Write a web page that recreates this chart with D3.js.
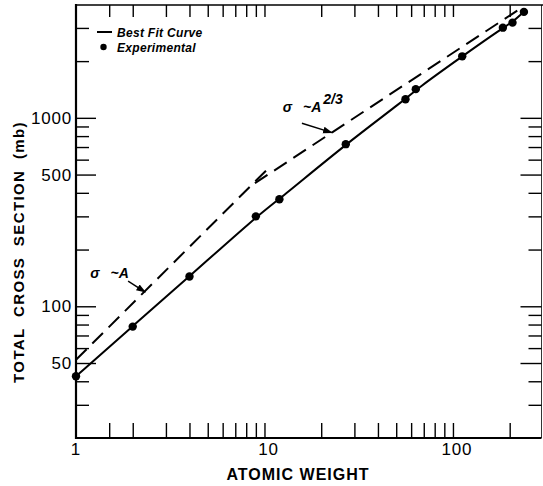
<!DOCTYPE html>
<html>
    <head>
        <title>Total cross section vs atomic weight</title>
        <meta charset="UTF-8">
        <script src="https://cdnjs.cloudflare.com/ajax/libs/d3/7.9.0/d3.min.js"></script>
        <style>
            html, body {
                margin: 0;
                padding: 0;
                background: #fff;
            }
            svg text {
                font-family: 'Liberation Sans', Arial, sans-serif;
                fill: #000;
            }
            .tick-label {
                font-size: 17px;
                letter-spacing: 0.8px;
            }
            .title {
                font-size: 16px;
                font-weight: bold;
                letter-spacing: 1px;
            }
            .note {
                font-size: 12px;
                font-weight: bold;
                font-style: italic;
            }
        </style>
    </head>
    <body>
        <div id="chart"></div>
        <script>
            // experimental points
            let atomicWeight = [1, 2, 4, 9, 12, 27, 56, 63.5, 112, 184, 207, 238];
            let crossSection = [42.5, 78, 144, 300, 370, 725, 1255, 1420, 2120, 3010, 3200, 3650];

            // best fit curve
            let fitA = [1, 2, 4, 9, 12, 27, 56, 63.5, 112, 184, 207, 238];
            let fitSigma = [42.5, 78.5, 144, 298, 370, 725, 1255, 1410, 2120, 3000, 3220, 3650];

            // dashed guides: sigma ~ A and sigma ~ A^(2/3)
            let dashLowA = [1, 10.3];
            let dashLowSigma = [52, 530];
            let dashHighA = [8.9, 236];
            let dashHighSigma = [450, 3890];

            let xTicks = [1.5, 2, 3, 4, 5, 6, 7, 8, 9, 10, 20, 30, 40, 50, 60, 70, 80, 90, 100, 200];
            let xLabels = [1, 10, 100];
            let yMinorTicks = [30, 40, 60, 70, 80, 90, 200, 300, 400, 600, 700, 800, 900, 2000, 3000];
            let yMajorTicks = [50, 100, 500, 1000];
            let yLabels = [50, 100, 500, 1000];

            let w = 543;
            let h = 486;
            let pLeft = 76, pRight = 541.5, pTop = 5, pBottom = 438;

            let svg = d3.select('#chart').append('svg')
                    .attr('width', w)
                    .attr('height', h);

            let x = d3.scaleLog()
                    .domain([1, 295])
                    .range([pLeft, pRight]);
            let y = d3.scaleLog()
                    .domain([20, 3970])
                    .range([pBottom, pTop]);

            // ticks, all pointing inwards
            function ticks(axis, transform, values, size){
                let g = svg.append('g')
                        .attr('transform', transform)
                        .call(axis.tickValues(values).tickSize(size).tickFormat(''));
                g.select('.domain').remove();
                g.selectAll('.tick line').attr('stroke', '#000').attr('stroke-width', 1.4);
                return g;
            }
            ticks(d3.axisBottom(x), 'translate(0,' + pBottom + ')', xTicks, -15);
            ticks(d3.axisTop(x), 'translate(0,' + pTop + ')', xTicks, -12);
            ticks(d3.axisLeft(y), 'translate(' + pLeft + ',0)', yMinorTicks, -13);
            ticks(d3.axisLeft(y), 'translate(' + pLeft + ',0)', yMajorTicks, -20);
            ticks(d3.axisRight(y), 'translate(' + pRight + ',0)', yMinorTicks, -13);
            ticks(d3.axisRight(y), 'translate(' + pRight + ',0)', yMajorTicks, -21);

            // frame
            svg.append('line').attr('x1', pLeft).attr('x2', pLeft).attr('y1', pTop - 1).attr('y2', pBottom + 1)
                    .attr('stroke', '#000').attr('stroke-width', 2.2);
            svg.append('line').attr('x1', pLeft).attr('x2', pRight).attr('y1', pBottom).attr('y2', pBottom)
                    .attr('stroke', '#000').attr('stroke-width', 2);
            svg.append('line').attr('x1', pLeft).attr('x2', w).attr('y1', pTop).attr('y2', pTop)
                    .attr('stroke', '#000').attr('stroke-width', 1.6);
            svg.append('line').attr('x1', pRight).attr('x2', pRight).attr('y1', pTop).attr('y2', pBottom)
                    .attr('stroke', '#000').attr('stroke-width', 0.8);

            // tick labels
            svg.selectAll('.xl').data(xLabels).enter().append('text')
                    .attr('class', 'tick-label')
                    .attr('x', d => x(d) + (d > 1 ? 4 : 0))
                    .attr('y', pBottom + 17)
                    .attr('text-anchor', 'middle')
                    .text(d => d);
            svg.selectAll('.yl').data(yLabels).enter().append('text')
                    .attr('class', 'tick-label')
                    .attr('x', pLeft - 4)
                    .attr('y', d => y(d) + 6)
                    .attr('text-anchor', 'end')
                    .text(d => d);

            // axis titles
            svg.append('text')
                    .attr('class', 'title')
                    .attr('x', 298)
                    .attr('y', 480)
                    .attr('text-anchor', 'middle')
                    .text('ATOMIC WEIGHT');
            svg.append('text')
                    .attr('class', 'title')
                    .attr('transform', 'translate(24,252) rotate(-90)')
                    .attr('text-anchor', 'middle')
                    .style('font-size', '15px')
                    .style('letter-spacing', '1.4px')
                    .style('word-spacing', '5px')
                    .text('TOTAL CROSS SECTION (mb)');

            let line = d3.line()
                    .x(d => x(d[0]))
                    .y(d => y(d[1]));

            // dashed guides
            [[dashLowA, dashLowSigma], [dashHighA, dashHighSigma]].forEach(function(s){
                svg.append('path')
                        .datum(d3.zip(s[0], s[1]))
                        .attr('fill', 'none')
                        .attr('stroke', '#000')
                        .attr('stroke-width', 2)
                        .attr('stroke-dasharray', '15 8')
                        .attr('d', line);
            });

            // best fit curve
            svg.append('path')
                    .datum(d3.zip(fitA, fitSigma))
                    .attr('fill', 'none')
                    .attr('stroke', '#000')
                    .attr('stroke-width', 2)
                    .attr('d', line.curve(d3.curveBasis));

            // experimental points
            svg.selectAll('.pt').data(d3.zip(atomicWeight, crossSection)).enter().append('circle')
                    .attr('cx', d => x(d[0]))
                    .attr('cy', d => y(d[1]))
                    .attr('r', 4.2)
                    .attr('fill', '#000');

            // legend
            svg.append('line').attr('x1', 97).attr('x2', 112).attr('y1', 32).attr('y2', 32)
                    .attr('stroke', '#000').attr('stroke-width', 2);
            svg.append('text').attr('class', 'note').attr('x', 117).attr('y', 36.5)
                    .style('letter-spacing', '0.3px').text('Best Fit Curve');
            svg.append('circle').attr('cx', 103.5).attr('cy', 47).attr('r', 3.2).attr('fill', '#000');
            svg.append('text').attr('class', 'note').attr('x', 117).attr('y', 51.5)
                    .style('letter-spacing', '0.3px').text('Experimental');

            // annotations with arrows
            let defs = svg.append('defs');
            defs.append('marker')
                    .attr('id', 'head')
                    .attr('viewBox', '0 0 10 10')
                    .attr('refX', 9).attr('refY', 5)
                    .attr('markerWidth', 7).attr('markerHeight', 7)
                    .attr('orient', 'auto')
                    .append('path').attr('d', 'M0,1.5 L10,5 L0,8.5 Z').attr('fill', '#000');

            let notes = [
                {a: 1.19, s: 141, sup: '', from: [1.89, 136], to: [2.33, 119]},
                {a: 12.5, s: 1078, sup: '2/3', from: [15.8, 936], to: [22.8, 835]}
            ];
            notes.forEach(function(n){
                let t = svg.append('text').attr('class', 'note')
                        .attr('x', x(n.a)).attr('y', y(n.s))
                        .style('font-size', '14px');
                t.append('tspan').text('σ');
                t.append('tspan').attr('dx', 11).text('~A');
                if(n.sup){
                    t.append('tspan').attr('dy', -8).attr('dx', 2).style('font-size', '14px').text(n.sup);
                }
                svg.append('line')
                        .attr('x1', x(n.from[0])).attr('y1', y(n.from[1]))
                        .attr('x2', x(n.to[0])).attr('y2', y(n.to[1]))
                        .attr('stroke', '#000').attr('stroke-width', 1.4)
                        .attr('marker-end', 'url(#head)');
            });
        </script>
    </body>
</html>
